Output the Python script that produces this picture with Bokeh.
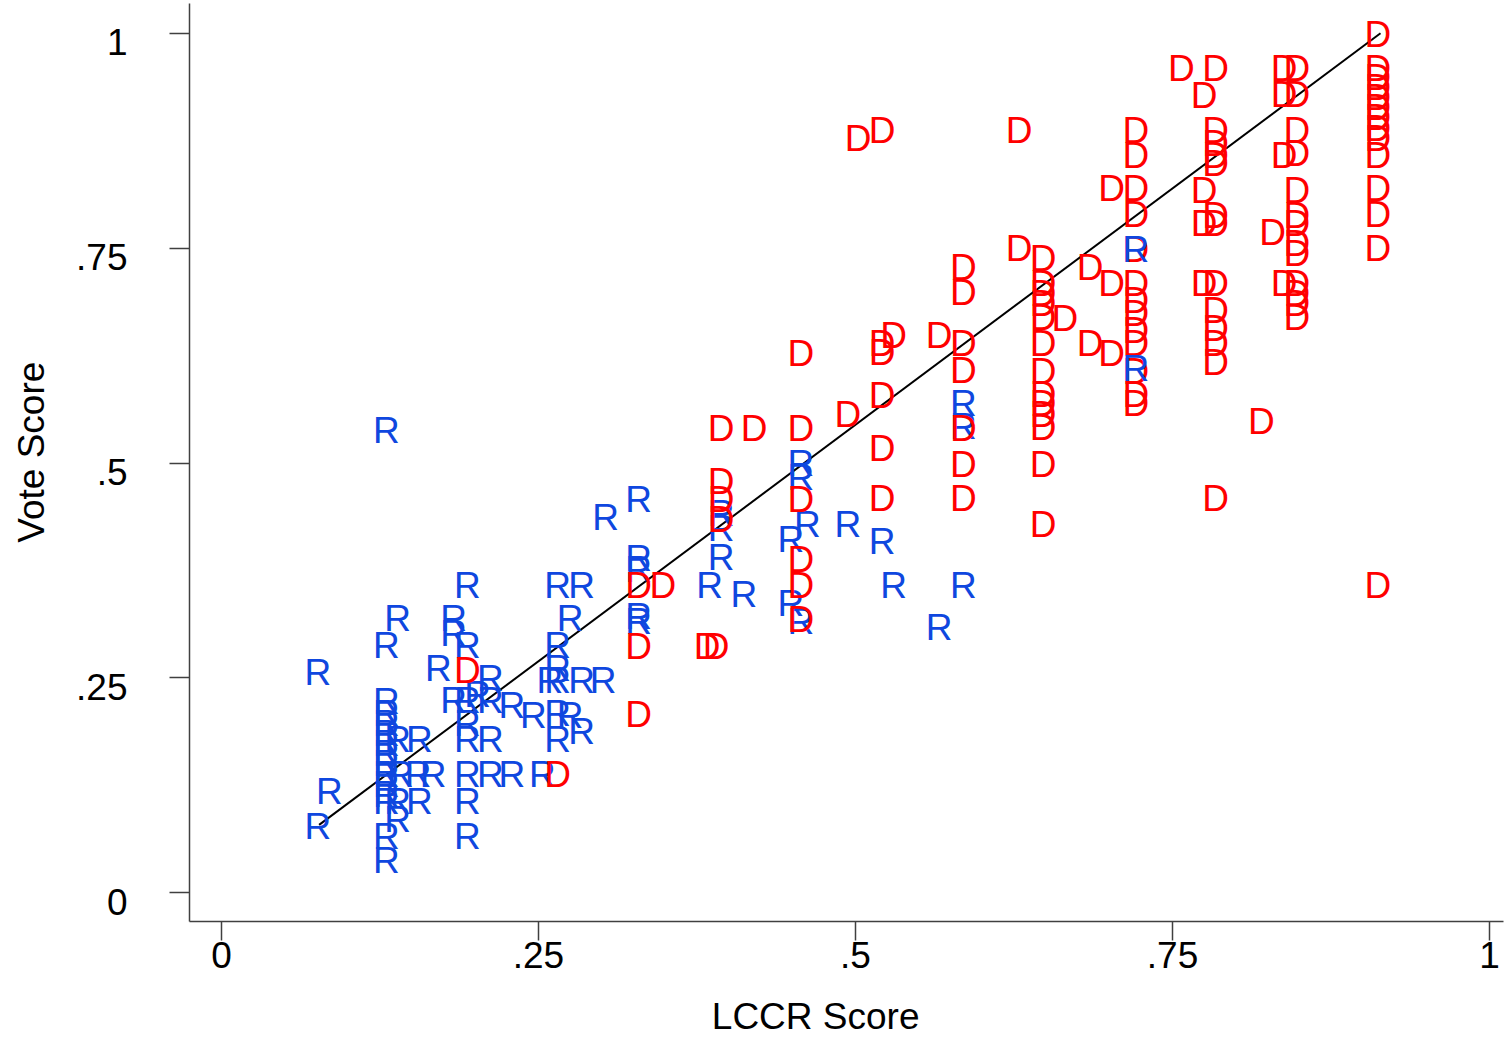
import numpy as np
from bokeh.plotting import figure
from bokeh.models import Range1d, FixedTicker, ColumnDataSource, LinearAxis
from bokeh.core.properties import value
from bokeh.embed import file_html
from bokeh.resources import INLINE

# ---- data ----
x_ticks = [0, 0.25, 0.5, 0.75, 1]
x_tick_labels = ["0", ".25", ".5", ".75", "1"]
y_ticks = [0, 0.25, 0.5, 0.75, 1]
y_tick_labels = ["0", ".25", ".5", ".75", "1"]

x_title = "LCCR Score"
y_title = "Vote Score"

r_x = [0.076, 0.076, 0.085, 0.130, 0.130, 0.130, 0.130, 0.130, 0.130, 0.130,
       0.130, 0.130, 0.130, 0.130, 0.130, 0.130, 0.130, 0.130, 0.139, 0.139,
       0.141, 0.139, 0.139, 0.155, 0.156, 0.156, 0.167, 0.171, 0.183, 0.183,
       0.183, 0.194, 0.194, 0.194, 0.194, 0.194, 0.194, 0.194, 0.194, 0.202,
       0.212, 0.212, 0.212, 0.212, 0.229, 0.229, 0.246, 0.253, 0.259, 0.265,
       0.265, 0.265, 0.265, 0.265, 0.265, 0.275, 0.275, 0.284, 0.284, 0.284,
       0.301, 0.303, 0.329, 0.329, 0.329, 0.329, 0.329, 0.385, 0.394, 0.394,
       0.394, 0.412, 0.449, 0.449, 0.457, 0.457, 0.457, 0.462, 0.494, 0.521,
       0.530, 0.566, 0.585, 0.585, 0.585, 0.721, 0.721]
r_y = [0.256, 0.077, 0.118, 0.538, 0.288, 0.223, 0.209, 0.197, 0.185, 0.174,
       0.162, 0.150, 0.138, 0.126, 0.114, 0.106, 0.065, 0.037, 0.319, 0.178,
       0.138, 0.106, 0.085, 0.138, 0.178, 0.106, 0.138, 0.261, 0.319, 0.302,
       0.224, 0.357, 0.288, 0.224, 0.197, 0.178, 0.138, 0.106, 0.066, 0.231,
       0.249, 0.224, 0.178, 0.138, 0.218, 0.138, 0.206, 0.138, 0.247, 0.357,
       0.288, 0.261, 0.247, 0.209, 0.178, 0.319, 0.206, 0.357, 0.247, 0.188,
       0.247, 0.437, 0.458, 0.389, 0.376, 0.322, 0.316, 0.357, 0.441, 0.424,
       0.390, 0.347, 0.411, 0.337, 0.500, 0.483, 0.316, 0.429, 0.429, 0.409,
       0.358, 0.309, 0.569, 0.543, 0.358, 0.748, 0.610]

d_x = [0.194, 0.265, 0.329, 0.329, 0.329, 0.348, 0.383, 0.390, 0.394, 0.394,
       0.394, 0.394, 0.420, 0.457, 0.457, 0.457, 0.457, 0.457, 0.457, 0.494,
       0.502, 0.521, 0.521, 0.521, 0.521, 0.521, 0.521, 0.530, 0.566, 0.585,
       0.585, 0.585, 0.585, 0.585, 0.585, 0.585, 0.629, 0.629, 0.648, 0.648,
       0.648, 0.648, 0.648, 0.648, 0.648, 0.648, 0.648, 0.648, 0.648, 0.648,
       0.648, 0.665, 0.685, 0.685, 0.702, 0.702, 0.702, 0.721, 0.721, 0.721,
       0.721, 0.721, 0.721, 0.721, 0.721, 0.721, 0.721, 0.721, 0.721, 0.721,
       0.757, 0.775, 0.775, 0.775, 0.775, 0.784, 0.784, 0.784, 0.784, 0.784,
       0.784, 0.784, 0.784, 0.784, 0.784, 0.784, 0.784, 0.784, 0.820, 0.829,
       0.838, 0.838, 0.838, 0.838, 0.848, 0.848, 0.848, 0.848, 0.848, 0.848,
       0.848, 0.848, 0.848, 0.848, 0.848, 0.848, 0.848, 0.912, 0.912, 0.912,
       0.912, 0.912, 0.912, 0.912, 0.912, 0.912, 0.912, 0.912, 0.912, 0.912,
       0.912]
d_y = [0.259, 0.138, 0.357, 0.287, 0.207, 0.357, 0.287, 0.287, 0.540, 0.479,
       0.458, 0.434, 0.540, 0.627, 0.540, 0.458, 0.388, 0.357, 0.318, 0.557,
       0.878, 0.887, 0.639, 0.628, 0.578, 0.517, 0.459, 0.648, 0.648, 0.727,
       0.698, 0.639, 0.608, 0.540, 0.498, 0.459, 0.887, 0.749, 0.738, 0.709,
       0.697, 0.685, 0.669, 0.639, 0.607, 0.580, 0.569, 0.557, 0.541, 0.498,
       0.429, 0.668, 0.727, 0.639, 0.819, 0.709, 0.627, 0.887, 0.858, 0.819,
       0.789, 0.748, 0.709, 0.689, 0.674, 0.654, 0.639, 0.607, 0.580, 0.569,
       0.959, 0.928, 0.817, 0.779, 0.709, 0.959, 0.887, 0.872, 0.858, 0.848,
       0.788, 0.779, 0.709, 0.677, 0.657, 0.639, 0.617, 0.459, 0.548, 0.768,
       0.959, 0.929, 0.858, 0.709, 0.959, 0.929, 0.887, 0.860, 0.817, 0.788,
       0.779, 0.755, 0.744, 0.709, 0.697, 0.685, 0.669, 0.998, 0.959, 0.948,
       0.937, 0.925, 0.914, 0.902, 0.889, 0.878, 0.858, 0.819, 0.789, 0.749,
       0.357]

fit_x = [0.077, 0.914]
fit_y = [0.079, 1.000]

# ---- styling ----
FONT = "Liberation Sans"
BLUE = "#0F47DF"
RED = "#FF0000"
AXIS = "#404040"
X0, X1 = -0.0252, 1.011
Y0, Y1 = -0.0334, 1.0346
LAB_SHIFT = 0.0105   # y tick labels sit a little below their ticks
NBSP = "\u00a0"

p = figure(width=1505, height=1039, output_backend="svg", toolbar_location=None,
           x_range=Range1d(X0, X1), y_range=Range1d(Y0, Y1),
           min_border_left=189, min_border_right=2, min_border_top=3,
           min_border_bottom=118)
p.outline_line_color = None
p.background_fill_color = "white"
p.border_fill_color = "white"
p.xgrid.visible = False
p.ygrid.visible = False

p.line(fit_x, fit_y, line_color="black", line_width=2)

rx = np.array(r_x); ry = np.array(r_y)
late = rx > 0.7
src_r1 = ColumnDataSource(dict(x=rx[~late], y=ry[~late], t=["R"] * int((~late).sum())))
src_d = ColumnDataSource(dict(x=d_x, y=d_y, t=["D"] * len(d_x)))
src_r2 = ColumnDataSource(dict(x=rx[late], y=ry[late], t=["R"] * int(late.sum())))
for src, col in ((src_r1, BLUE), (src_d, RED), (src_r2, BLUE)):
    p.text(x="x", y="y", text="t", source=src, text_color=col,
           text_font=value(FONT), text_font_size="37px",
           text_align="center", text_baseline="middle")


def rule_axis(ax, ticks, tick_out):
    ax.ticker = FixedTicker(ticks=ticks)
    ax.major_label_overrides = {t: "" for t in ticks}
    ax.major_label_standoff = 0
    ax.major_tick_in = 0
    ax.major_tick_out = tick_out
    ax.minor_tick_in = 0
    ax.minor_tick_out = 0
    ax.axis_line_color = AXIS
    ax.axis_line_width = 1.5
    ax.major_tick_line_color = AXIS
    ax.major_tick_line_width = 1.5


def label_axis(ax, ticks, labels, standoff, title, title_standoff):
    ax.ticker = FixedTicker(ticks=ticks)
    ax.major_label_overrides = {t: l for t, l in zip(ticks, labels)}
    ax.major_label_text_font = FONT
    ax.major_label_text_font_size = "37px"
    ax.major_label_text_color = "black"
    ax.major_label_standoff = standoff
    ax.major_tick_in = 0
    ax.major_tick_out = 0
    ax.minor_tick_in = 0
    ax.minor_tick_out = 0
    ax.axis_line_color = None
    ax.major_tick_line_color = None
    ax.minor_tick_line_color = None
    ax.axis_label = title
    ax.axis_label_text_font = FONT
    ax.axis_label_text_font_size = "37px"
    ax.axis_label_text_font_style = "normal"
    ax.axis_label_text_color = "black"
    ax.axis_label_standoff = title_standoff


# x axis: inner rule + ticks, outer labels + title (title sits a bit left of centre)
rule_axis(p.xaxis[0], x_ticks, 19)
xl = LinearAxis()
label_axis(xl, x_ticks, x_tick_labels, 1, x_title + NBSP * 6, 25)
p.add_layout(xl, "below")

# y axis: inner rule + ticks, outer labels (on a slightly shifted range) + title
rule_axis(p.yaxis[0], y_ticks, 20)
p.extra_y_ranges = {"lab": Range1d(Y0 + LAB_SHIFT, Y1 + LAB_SHIFT)}
yl = LinearAxis(y_range_name="lab")
label_axis(yl, y_ticks, y_tick_labels, 42, NBSP * 2 + y_title, 21)
p.add_layout(yl, "left")

open("out.html", "w").write(file_html(p, INLINE))
